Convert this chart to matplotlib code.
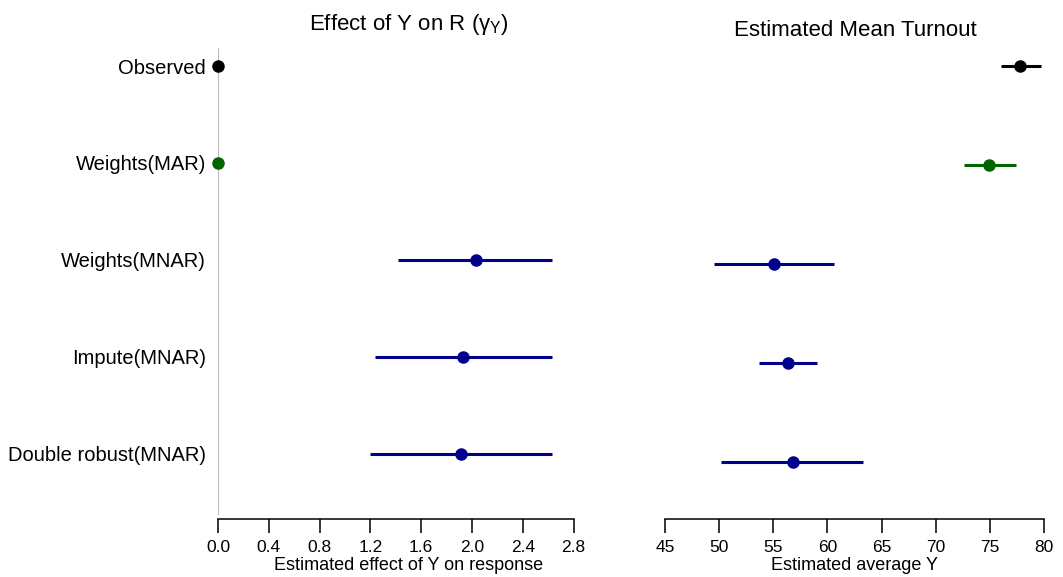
"""
Effect of Y on R and estimated mean turnout, by estimation method
"""
import numpy as np
import matplotlib
matplotlib.use('Agg')
import matplotlib.pyplot as plt

plt.rcParams['font.family'] = ['Liberation Sans', 'DejaVu Sans']
plt.rcParams['mathtext.fontset'] = 'custom'
plt.rcParams['mathtext.rm'] = 'Liberation Sans'
plt.rcParams['mathtext.it'] = 'Liberation Sans'

# Data
methods = ['Observed', 'Weights(MAR)', 'Weights(MNAR)', 'Impute(MNAR)', 'Double robust(MNAR)']
colors = ['black', '#006400', '#00008B', '#00008B', '#00008B']

gamma_est = [0.0, 0.0, 2.03, 1.93, 1.91]
gamma_lo = [np.nan, np.nan, 1.42, 1.24, 1.20]
gamma_hi = [np.nan, np.nan, 2.63, 2.63, 2.63]

mean_est = [77.8, 74.9, 55.1, 56.4, 56.8]
mean_lo = [76.0, 72.6, 49.5, 53.7, 50.2]
mean_hi = [79.7, 77.4, 60.6, 59.0, 63.3]

gamma_ticks = [0.0, 0.4, 0.8, 1.2, 1.6, 2.0, 2.4, 2.8]
mean_ticks = [45, 50, 55, 60, 65, 70, 75, 80]

W, H = 1063, 577
fig = plt.figure(figsize=(W / 100, H / 100), dpi=100)
fig.patch.set_facecolor('white')


def px_axes(x0, x1, y0, y1):
    # axes from pixel box (top-left origin)
    return fig.add_axes([x0 / W, 1 - y1 / H, (x1 - x0) / W, (y1 - y0) / H])


rows = np.arange(len(methods))[::-1] + 1  # Observed on top

ax1 = px_axes(218, 599, 48, 515)
ax2 = px_axes(665, 1044, 48, 515)

# left panel
ax1.axvline(0, color='#bbbbbb', lw=1.5, zorder=1)
for y, m, lo, hi, c in zip(rows, gamma_est, gamma_lo, gamma_hi, colors):
    if not np.isnan(lo):
        ax1.plot([lo, hi], [y, y], color=c, lw=2.2, solid_capstyle='butt', zorder=2)
    ax1.plot(m, y, 'o', color=c, ms=8, clip_on=False, zorder=3)
ax1.set_xlim(0, 3.0)
ax1.set_ylim(1 - 61.3 / 96.9, 1 + (453.7 - 48) / 96.9)
ax1.set_yticks(rows)
ax1.set_yticklabels(methods, fontsize=14.5)
ax1.tick_params(axis='y', length=0, pad=8.5)
ax1.set_xticks(gamma_ticks)
ax1.set_xticklabels([f'{t:.1f}' for t in gamma_ticks])
ax1.set_xlabel('Estimated effect of Y on response', fontsize=13, labelpad=1.5)

# right panel
for y, m, lo, hi, c in zip(rows, mean_est, mean_lo, mean_hi, colors):
    ax2.plot([lo, hi], [y, y], color=c, lw=2.2, solid_capstyle='butt', zorder=2)
    ax2.plot(m, y, 'o', color=c, ms=8, clip_on=False, zorder=3)
ax2.set_xlim(45, 80)
ax2.set_ylim(1 - (515 - 462.3) / 99.2, 1 + (462.3 - 48) / 99.2)
ax2.set_yticks([])
ax2.set_xticks(mean_ticks)
ax2.set_xlabel('Estimated average Y', fontsize=13, labelpad=1.5)

for ax, lo, hi in [(ax1, 0, 2.8), (ax2, 45, 80)]:
    ax.set_facecolor('none')
    for name in ['top', 'right', 'left']:
        ax.spines[name].set_visible(False)
    ax.spines['bottom'].set_position(('outward', 3))
    ax.spines['bottom'].set_bounds(lo, hi)
    ax.spines['bottom'].set_linewidth(1.1)
    ax.tick_params(axis='x', length=10, width=1.1, labelsize=12.5, pad=5)

# titles
fig.text(409 / W, 1 - 30 / H, r'Effect of Y on R ($\gamma_{\mathrm{Y}}$)', fontsize=16,
         ha='center', va='baseline')
fig.text(855 / W, 1 - 36 / H, 'Estimated Mean Turnout', fontsize=16,
         ha='center', va='baseline')

fig.savefig('out.png', dpi=100, facecolor='white')
plt.close(fig)
